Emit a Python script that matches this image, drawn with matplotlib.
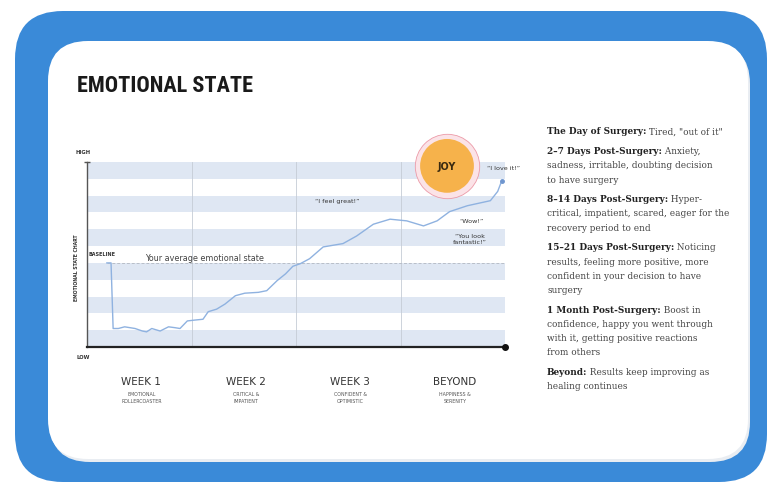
import matplotlib
matplotlib.use('Agg')
import matplotlib.pyplot as plt
from matplotlib.patches import FancyBboxPatch

# emotional curve (x in weeks after surgery, y in band units 0..11)
week_x = [0.19, 0.23, 0.25, 0.30, 0.36, 0.46, 0.53, 0.57, 0.62, 0.70, 0.78,
          0.84, 0.89, 0.96, 1.03, 1.11, 1.16, 1.24, 1.32, 1.42, 1.51, 1.64,
          1.72, 1.82, 1.90, 1.97, 2.04, 2.13, 2.26, 2.45, 2.58, 2.74, 2.90,
          3.06, 3.22, 3.35, 3.47, 3.64, 3.86, 3.93, 3.97]
emotion = [5.0, 5.0, 1.1, 1.1, 1.2, 1.1, 0.95, 0.9, 1.1, 0.95, 1.2,
           1.15, 1.1, 1.55, 1.6, 1.65, 2.1, 2.25, 2.55, 3.05, 3.2, 3.25,
           3.35, 3.95, 4.35, 4.8, 4.95, 5.25, 5.95, 6.15, 6.6, 7.3, 7.6,
           7.5, 7.2, 7.5, 8.05, 8.4, 8.7, 9.25, 9.9]
baseline = 5.0

week_names = ['WEEK 1', 'WEEK 2', 'WEEK 3', 'BEYOND']
week_sub = ['EMOTIONAL\nROLLERCOASTER', 'CRITICAL &\nIMPATIENT',
            'CONFIDENT &\nOPTIMISTIC', 'HAPPINESS &\nSERENITY']

quotes = ['\u201cI feel great!\u201d', '\u201cWow!\u201d',
          '\u201cYou look\nfantastic!\u201d', '\u201cI love it!\u201d']
quote_x = [2.39, 3.68, 3.66, 3.83]
quote_y = [8.7, 7.55, 6.45, 10.65]

heads = ['The Day of Surgery:', '2\u20137 Days Post-Surgery:',
         '8\u201314 Days Post-Surgery:', '15\u201321 Days Post-Surgery:',
         '1 Month Post-Surgery:', 'Beyond:']
bodies = [['Tired, "out of it"'],
          ['Anxiety,', 'sadness, irritable, doubting decision', 'to have surgery'],
          ['Hyper-', 'critical, impatient, scared, eager for the', 'recovery period to end'],
          ['Noticing', 'results, feeling more positive, more',
           'confident in your decision to have', 'surgery'],
          ['Boost in', 'confidence, happy you went through',
           'with it, getting positive reactions', 'from others'],
          ['Results keep improving as', 'healing continues']]

blue = '#3a8ad8'
band = '#dfe7f3'

fig = plt.figure(figsize=(7.72, 4.85), dpi=100)

# background frame, pixel coordinates
bg = fig.add_axes([0, 0, 1, 1])
bg.set_xlim(0, 772)
bg.set_ylim(485, 0)
bg.axis('off')
bg.add_patch(FancyBboxPatch((15, 12), 752, 471, boxstyle='round,pad=0,rounding_size=48',
                            fc=blue, ec='none'))
bg.add_patch(FancyBboxPatch((50, 45), 700, 418, boxstyle='round,pad=0,rounding_size=40',
                            fc='#e9edf2', ec='none'))
bg.add_patch(FancyBboxPatch((48, 42), 700, 418, boxstyle='round,pad=0,rounding_size=40',
                            fc='white', ec='none'))
bg.text(77, 86, 'EMOTIONAL STATE', fontsize=16, fontweight='heavy', fontstretch='condensed',
        family=['Roboto Condensed', 'DejaVu Sans Condensed', 'DejaVu Sans'],
        color='#1a1a1a', va='center')

# right-hand notes
fs = 6.4
y = 132
for head, body in zip(heads, bodies):
    t = bg.text(547, y, head, fontsize=fs, fontweight='bold', family='DejaVu Serif',
                color='#222222', va='center')
    bg.annotate(' ' + body[0], xy=(1, 0.5), xycoords=t, fontsize=fs, family='DejaVu Serif',
                color='#444444', va='center', ha='left')
    for line in body[1:]:
        y += 14.2
        bg.text(547, y, line, fontsize=fs, family='DejaVu Serif', color='#444444', va='center')
    y += 19.7

# chart
ax = fig.add_axes([87 / 772, 137 / 485, 418 / 772, 185 / 485], zorder=2)
ax.patch.set_alpha(0)
ax.set_xlim(0, 4)
ax.set_ylim(0, 11)
for i in range(0, 11, 2):
    ax.axhspan(i, i + 1, color=band, lw=0, zorder=0)
for wx in [1, 2, 3]:
    ax.axvline(wx, color='#c5ccd6', lw=0.6, zorder=1)
ax.plot([week_x[0], 4], [baseline, baseline], color='#b8bec8', lw=0.7, ls=(0, (3, 2)), zorder=2)
ax.plot(week_x, emotion, color='#8fb2e0', lw=1.0, zorder=3)
ax.plot(week_x[-1], emotion[-1], 'o', color='#6f96cf', ms=2.5, zorder=4)

for sp in ['top', 'right']:
    ax.spines[sp].set_visible(False)
ax.spines['bottom'].set_color('#222222')
ax.spines['bottom'].set_linewidth(1.6)
ax.spines['left'].set_color('#555555')
ax.spines['left'].set_linewidth(1.0)
ax.plot(4, 0, 'o', color='#111111', ms=4, clip_on=False, zorder=5)
ax.plot(0, 11, '_', color='#555555', ms=5, mew=1, clip_on=False, zorder=5)
ax.set_xticks([])
ax.set_yticks([])

ax.text(-0.11, 11.65, 'HIGH', fontsize=3.8, fontweight='bold', color='#333333', va='center')
ax.text(-0.10, -0.55, 'LOW', fontsize=3.8, fontweight='bold', color='#333333', va='center')
ax.text(-0.1, 4.8, 'EMOTIONAL STATE CHART', fontsize=3.3, fontweight='bold', color='#333333',
        rotation=90, ha='center', va='center')
ax.text(0.01, 5.55, 'BASELINE', fontsize=3.5, fontweight='bold', color='#333333', va='center')
ax.text(1.12, 5.3, 'Your average emotional state', fontsize=5.8, color='#444444',
        ha='center', va='center')

for qx, qy, q in zip(quote_x, quote_y, quotes):
    ax.text(qx, qy, q, fontsize=4.6, color='#333333', ha='center' if qx < 3.8 else 'left',
            va='center', linespacing=1.1)

for i, (name, sub) in enumerate(zip(week_names, week_sub)):
    ax.text(i + 0.52, -2.0, name, fontsize=7.5, color='#333333', ha='center', va='center',
            clip_on=False)
    ax.text(i + 0.52, -3.0, sub, fontsize=3.4, color='#555555', ha='center', va='center',
            clip_on=False, linespacing=1.5)

# JOY badge
ax.scatter([3.445], [10.77], s=2150, color='#fbe3e7', edgecolor='#ec9aa8', lw=0.6,
           zorder=6, clip_on=False)
ax.scatter([3.445], [10.77], s=1500, color='#f6b24b', edgecolor='none', zorder=7, clip_on=False)
ax.text(3.445, 10.77, 'JOY', fontsize=7, fontweight='bold', color='#3a2a10', ha='center',
        va='center', zorder=8)

fig.savefig('out.png', dpi=100)
